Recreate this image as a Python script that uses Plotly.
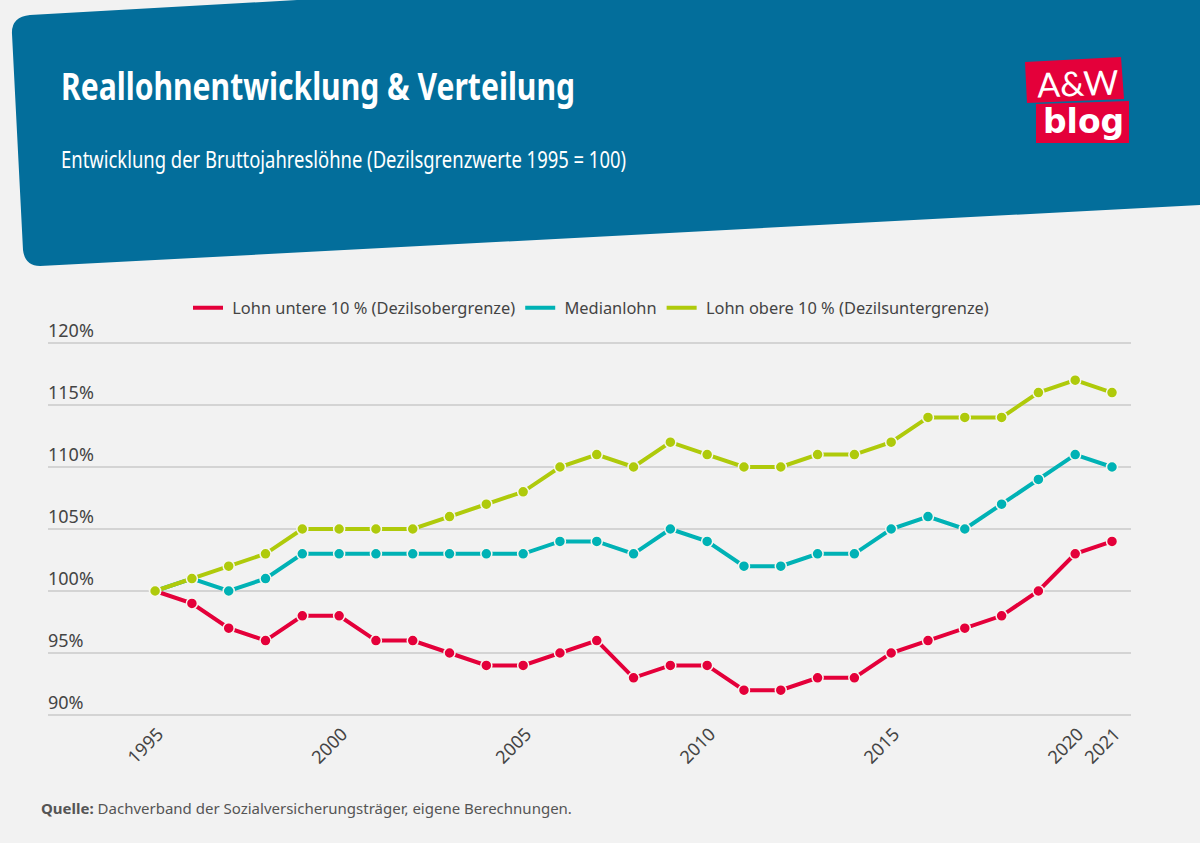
import plotly.graph_objects as go

years = list(range(1995, 2022))
lohn_unten = [100, 99, 97, 96, 98, 98, 96, 96, 95, 94, 94, 95, 96, 93, 94, 94, 92, 92, 93, 93, 95, 96, 97, 98, 100, 103, 104]
median = [100, 101, 100, 101, 103, 103, 103, 103, 103, 103, 103, 104, 104, 103, 105, 104, 102, 102, 103, 103, 105, 106, 105, 107, 109, 111, 110]
lohn_oben = [100, 101, 102, 103, 105, 105, 105, 105, 106, 107, 108, 110, 111, 110, 112, 111, 110, 110, 111, 111, 112, 114, 114, 114, 116, 117, 116]
x_ticks = [1995, 2000, 2005, 2010, 2015, 2020, 2021]
y_ticks = [90, 95, 100, 105, 110, 115, 120]

series = [
    ("Lohn untere 10 % (Dezilsobergrenze)", lohn_unten, "#e4003a"),
    ("Medianlohn", median, "#00b2b5"),
    ("Lohn obere 10 % (Dezilsuntergrenze)", lohn_oben, "#afca0b"),
]

W, H = 1200, 843
BODY_FONT = "Noto Sans"


def px(x):
    return x / W


def py(y):
    return 1 - y / H


def path(points):
    # pixel points to an svg path in paper coordinates
    return "M " + " L ".join(f"{px(x):.5f},{py(y):.5f}" for x, y in points) + " Z"


fig = go.Figure()

for name, values, color in series:
    # leading nbsp widens the gap between legend line and text
    fig.add_trace(go.Scatter(x=years, y=values, name="\u00a0" + name, mode="lines",
                             line=dict(color=color, width=4)))
    fig.add_trace(go.Scatter(x=years, y=values, name=name, mode="markers", showlegend=False,
                             marker=dict(color=color, size=11, line=dict(color="#f6f6f0", width=1.5))))

# header band with rounded corners
header = (
    f"M {px(12):.5f},{py(34):.5f} "
    f"Q {px(11):.5f},{py(17):.5f} {px(30):.5f},{py(15):.5f} "
    f"L {px(297):.5f},{py(0):.5f} L {px(1200):.5f},{py(0):.5f} L {px(1200):.5f},{py(205):.5f} "
    f"L {px(40):.5f},{py(266):.5f} "
    f"Q {px(25):.5f},{py(266):.5f} {px(23):.5f},{py(250):.5f} Z"
)
shapes = [
    dict(type="path", path=header, xref="paper", yref="paper", layer="below",
         fillcolor="#036e9b", line_width=0),
    dict(type="path", path=path([(1025, 62), (1121, 57), (1124, 99), (1027, 103)]),
         xref="paper", yref="paper", fillcolor="#e4003a", line_width=0),
    dict(type="path", path=path([(1036, 104), (1129, 101), (1129, 143), (1036, 143)]),
         xref="paper", yref="paper", fillcolor="#e4003a", line_width=0),
]

annotations = [
    dict(text="Reallohnentwicklung &amp; Verteilung", x=px(58.5), y=py(85), xanchor="left", yanchor="middle",
         font=dict(family=BODY_FONT, size=38, color="white", weight=700)),
    dict(text="Entwicklung der Bruttojahreslöhne (Dezilsgrenzwerte 1995 = 100)", x=px(59), y=py(159), xanchor="left", yanchor="middle",
         font=dict(family=BODY_FONT, size=24, color="white")),
    dict(text="A&amp;W", x=px(1077), y=py(82), xanchor="center", yanchor="middle", textangle=-2,
         font=dict(family="Lato", size=34, color="white")),
    dict(text="<b>blog</b>", x=px(1083), y=py(122), xanchor="center", yanchor="middle",
         font=dict(family="DejaVu Sans", size=33, color="white")),
    dict(text="<b>Quelle:</b> Dachverband der Sozialversicherungsträger, eigene Berechnungen.", x=px(39), y=py(808), xanchor="left", yanchor="middle",
         font=dict(family=BODY_FONT, size=15, color="#555555")),
]
for a in annotations:
    a.update(xref="paper", yref="paper", showarrow=False)

fig.update_layout(
    width=W, height=H,
    margin=dict(l=0, r=0, t=0, b=0),
    paper_bgcolor="#f2f2f2",
    plot_bgcolor="#f2f2f2",
    font=dict(family=BODY_FONT, size=16, color="#444444"),
    shapes=shapes,
    annotations=annotations,
    legend=dict(orientation="h", x=px(591), xanchor="center", y=py(308), yanchor="middle",
                bgcolor="rgba(0,0,0,0)", font=dict(size=16.4, color="#444444"), itemwidth=30),
    xaxis=dict(domain=[px(48), px(1131)], range=[1992.09, 2021.516], tickmode="array", tickvals=x_ticks,
               ticktext=[str(v) for v in x_ticks], tickangle=-45, showgrid=False, zeroline=False,
               showline=False, ticks="", ticklabelshift=3, ticklabelstandoff=-2,
               tickfont=dict(size=18, color="#444444")),
    # range runs past 90 and 120 so the outer gridlines and labels are kept
    yaxis=dict(domain=[py(721.2), py(293.4)], range=[89.5, 124], tickmode="array", tickvals=y_ticks,
               ticktext=[f"{v}%" for v in y_ticks], ticklabelposition="inside top", showgrid=True,
               gridcolor="#d4d4d4", gridwidth=1.5, zeroline=False, showline=False, ticks="",
               ticklabelstandoff=-3, tickfont=dict(size=18, color="#444444")),
)

# no condensed font is installed, squeeze the two header lines to the original widths
post = """
document.body.style.margin = '0';
[[0, 514], [1, 565]].forEach(function (pair) {
    var t = document.querySelector('.annotation[data-index="' + pair[0] + '"] text');
    var left = t.getBBox().x;
    t.setAttribute('textLength', pair[1]);
    t.setAttribute('lengthAdjust', 'spacingAndGlyphs');
    t.setAttribute('x', parseFloat(t.getAttribute('x')) + left - t.getBBox().x);
});
"""
fig.write_html("out.html", config=dict(displayModeBar=False), post_script=post)
